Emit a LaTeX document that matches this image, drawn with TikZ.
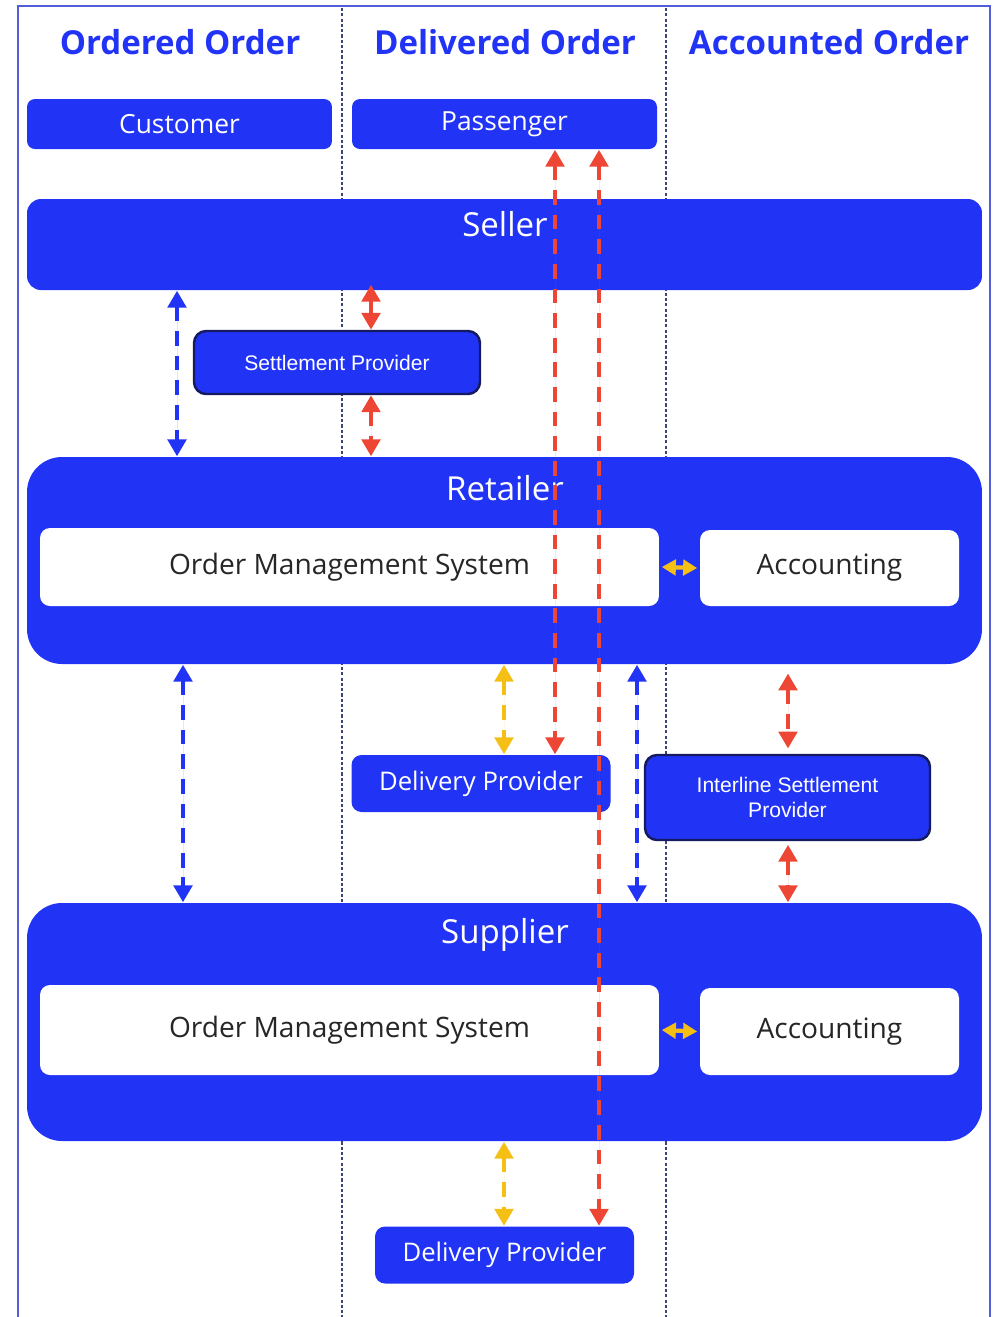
\documentclass[tikz,border=0pt]{standalone}
\usepackage{fontspec}
\setmainfont{Open Sans}
\newfontfamily\slimfont{Liberation Sans}
\usetikzlibrary{arrows.meta, positioning}
\definecolor{boxblue}{RGB}{33, 52, 245}
\definecolor{edgenavy}{RGB}{22, 26, 96}
\definecolor{linkred}{RGB}{238, 70, 52}
\definecolor{linkgold}{RGB}{245, 192, 22}
\definecolor{frameblue}{RGB}{84, 94, 218}
\definecolor{lanegray}{RGB}{62, 70, 120}

\begin{document}
\begin{tikzpicture}[
            x=0.1mm, y=-0.1mm,
            heading/.style={text=boxblue, font=\bfseries\fontsize{9.4}{11}\selectfont},
            panel/.style={fill=boxblue, inner sep=0pt, text=white},
            actor/.style={panel, rounded corners=0.8mm, minimum width=30.5mm, minimum height=5mm, font=\fontsize{7.5}{9}\selectfont},
            party/.style={panel, rounded corners=3.5mm, minimum width=95.5mm},
            partylabel/.style={text=white, font=\fontsize{9.4}{11}\selectfont},
            system/.style={fill=white, inner sep=0pt, rounded corners=1mm, text=black!85, font=\fontsize{8}{9}\selectfont},
            provider/.style={panel, rounded corners=1mm, minimum width=25.9mm, minimum height=5.7mm, font=\fontsize{7.3}{9}\selectfont},
            settler/.style={panel, draw=edgenavy, line width=0.7pt, rounded corners=1.2mm, align=center, font=\slimfont\fontsize{6}{7.2}\selectfont},
            flow/.style={{Triangle[width=5.2pt,length=4.8pt]}-{Triangle[width=5.2pt,length=4.8pt]}, line width=1.2pt, dash pattern=on 4.2pt off 2.8pt},
            blueflow/.style={flow, draw=boxblue, fill=boxblue},
            redflow/.style={flow, draw=linkred, fill=linkred},
            goldflow/.style={flow, draw=linkgold, fill=linkgold},
            lane/.style={draw=lanegray, line width=0.6pt, dash pattern=on 0.9pt off 0.6pt}
        ]
            \useasboundingbox (0,0) rectangle (1000,1317);

            % Frame and lanes
            \draw[frameblue, line width=0.6pt] (18,1317) -- (18,6) -- (990,6) -- (990,1317);
            \draw[lane] (342,8) -- (342,1317);
            \draw[lane] (666,8) -- (666,1317);

            % Headings
            \node[heading] (hordered) at (180,42) {Ordered Order};
            \node[heading] (hdelivered) at (505,42) {Delivered Order};
            \node[heading] (haccounted) at (829,42) {Accounted Order};

            % Nodes
            \node[actor] (customer) at (179.5,124) {Customer};
            \node[actor] (passenger) at (504.5,124) {Passenger};

            \node[party, rounded corners=1.4mm, minimum height=9.1mm] (seller) at (504.5,244.5) {};
            \node[partylabel] (sellerlbl) at (505,224) {Seller};

            \node[settler, minimum width=28.6mm, minimum height=6.3mm] (settle) at (337,362.5) {Settlement Provider};

            \node[party, minimum height=20.7mm] (retailer) at (504.5,560.5) {};
            \node[partylabel] (retailerlbl) at (505,488) {Retailer};
            \node[system, minimum width=61.9mm, minimum height=7.8mm] (retoms) at (349.5,567) {Order Management System};
            \node[system, minimum width=25.9mm, minimum height=7.6mm] (retacc) at (829.5,568) {Accounting};

            \node[provider] (middlv) at (481,783.5) {Delivery Provider};
            \node[settler, minimum width=28.5mm, minimum height=8.5mm] (interline) at (787.5,797.5) {Interline Settlement\\Provider};

            \node[party, minimum height=23.8mm] (supplier) at (504.5,1022) {};
            \node[partylabel] (supplierlbl) at (505,935) {Supplier};
            \node[system, minimum width=61.9mm, minimum height=9mm] (supoms) at (349.5,1030) {Order Management System};
            \node[system, minimum width=25.9mm, minimum height=8.7mm] (supacc) at (829.5,1031.5) {Accounting};

            \node[provider] (botdlv) at (504.5,1255) {Delivery Provider};

            % Arrow columns
            \coordinate (xord) at (177,0);
            \coordinate (xset) at (371,0);
            \coordinate (xordlow) at (183,0);
            \coordinate (xdlv) at (504,0);
            \coordinate (xacclow) at (637,0);
            \coordinate (xisp) at (788,0);
            \coordinate (xpassa) at (555,0);
            \coordinate (xpassb) at (599,0);

            % Arrows
            \draw[blueflow] (seller.south -| xord) -- (retailer.north -| xord);
            \draw[redflow, shorten <=-1.7pt] (seller.south -| xset) -- (settle.north -| xset);
            \draw[redflow] (settle.south -| xset) -- (retailer.north -| xset);
            \draw[goldflow, solid, {Triangle[width=4.4pt,length=4pt]}-{Triangle[width=4.4pt,length=4pt]}] ([xshift=0.6pt]retoms.east) -- ([xshift=-0.6pt]retacc.west);
            \draw[blueflow] (retailer.south -| xordlow) -- (supplier.north -| xordlow);
            \draw[goldflow] (retailer.south -| xdlv) -- (middlv.north -| xdlv);
            \draw[blueflow] (retailer.south -| xacclow) -- (supplier.north -| xacclow);
            \draw[redflow, shorten <=2.5pt, shorten >=1.5pt] (retailer.south -| xisp) -- (interline.north -| xisp);
            \draw[redflow, shorten <=1pt] (interline.south -| xisp) -- (supplier.north -| xisp);
            \draw[goldflow, {Triangle[width=4.4pt,length=4pt]}-{Triangle[width=4.4pt,length=4pt]}] ([xshift=0.6pt]supoms.east) -- ([xshift=-0.6pt]supacc.west);
            \draw[goldflow] (supplier.south -| xdlv) -- (botdlv.north -| xdlv);
            \draw[redflow] (passenger.south -| xpassa) -- (middlv.north -| xpassa);
            \draw[redflow] (passenger.south -| xpassb) -- (botdlv.north -| xpassb);
        \end{tikzpicture}
\end{document}
